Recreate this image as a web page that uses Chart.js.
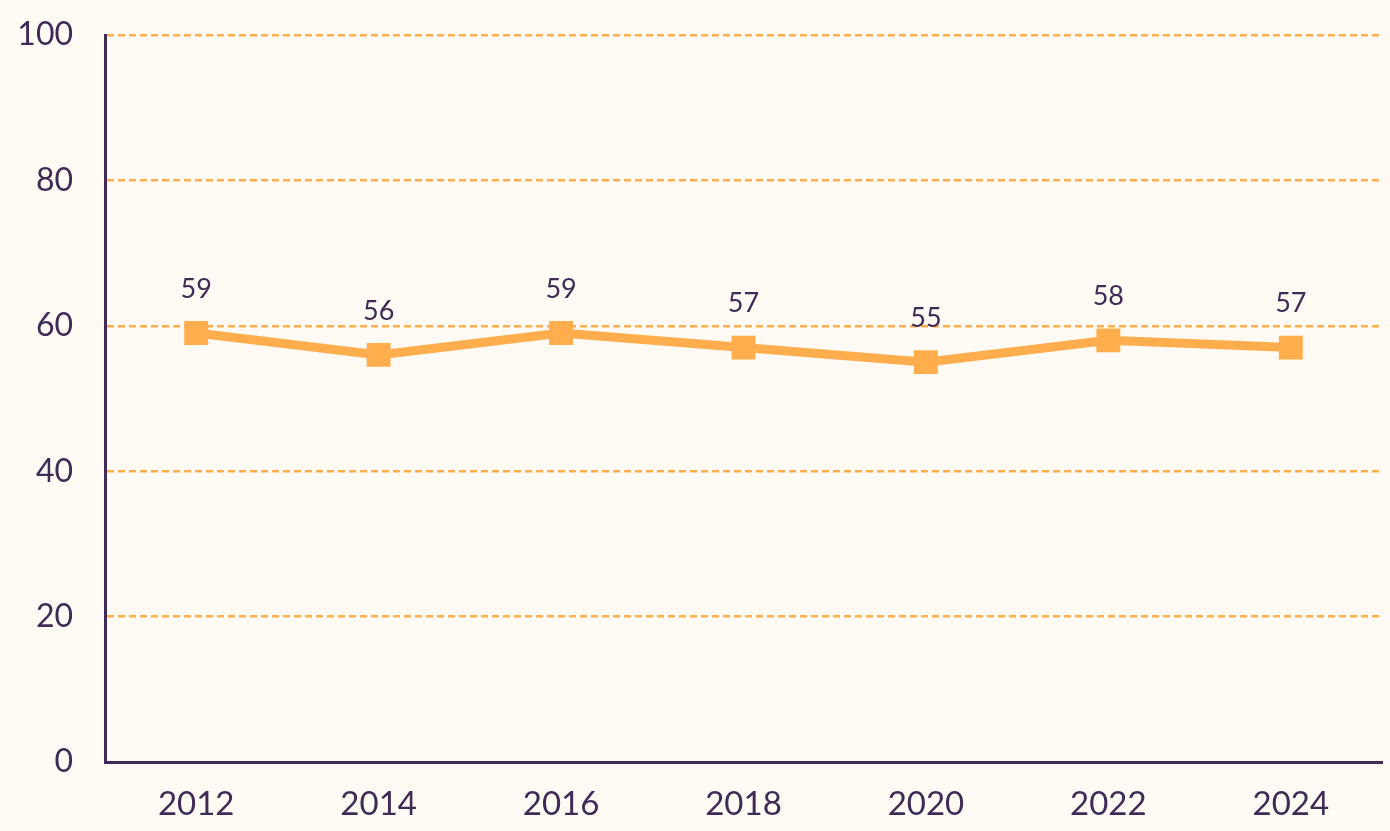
<!DOCTYPE html>
<html>
<head>
<meta charset="utf-8">
<script src="https://cdn.jsdelivr.net/npm/chart.js@4"></script>
<style>
	html, body { margin: 0; padding: 0; background: #fffaf3; }
	#wrap { width: 1390px; height: 831px; }
</style>
</head>
<body>
<div id="wrap"><canvas id="grafica" width="1390" height="831"></canvas></div>
<script>
const years = ['2012', '2014', '2016', '2018', '2020', '2022', '2024'];
const values = [59, 56, 59, 57, 55, 58, 57];
const yTicks = [0, 20, 40, 60, 80, 100];

const purple = '#3f2b56';
const orange = '#ffad4d';

// etiquetas encima de cada punto
const etiquetas = {
	id: 'etiquetas',
	afterDatasetsDraw(chart) {
		const ctx = chart.ctx;
		const meta = chart.getDatasetMeta(0);
		ctx.save();
		ctx.font = '27px Lato';
		ctx.fillStyle = purple;
		ctx.textAlign = 'center';
		ctx.textBaseline = 'middle';
		meta.data.forEach(function(pt, i) {
			ctx.fillText(String(values[i]), pt.x, pt.y - 44);
		});
		ctx.restore();
	}
};

new Chart(document.getElementById('grafica'), {
	type: 'line',
	data: {
		labels: years,
		datasets: [{
			data: values,
			borderColor: orange,
			backgroundColor: orange,
			borderWidth: 9,
			pointStyle: 'rect',
			pointRadius: 15.5,
			pointBorderWidth: 2,
			pointBorderColor: orange,
			pointBackgroundColor: orange,
			tension: 0
		}]
	},
	options: {
		responsive: false,
		animation: false,
		layout: { autoPadding: false, padding: { top: 35, right: 8, left: 0, bottom: 0 } },
		plugins: {
			legend: { display: false },
			tooltip: { enabled: false }
		},
		scales: {
			x: {
				offset: true,
				grid: { display: false, drawTicks: false },
				border: { color: purple, width: 3 },
				ticks: { color: purple, font: { family: 'Lato', size: 33 }, padding: 23 },
				afterFit: function(s) { s.height = 69; }
			},
			y: {
				min: 0,
				max: 100,
				afterBuildTicks: function(s) { s.ticks = yTicks.map(v => ({ value: v })); },
				grid: { color: orange, lineWidth: 2.5, drawTicks: false },
				border: { color: purple, width: 3, dash: [7, 4] },
				ticks: { color: purple, font: { family: 'Lato', size: 32 }, padding: 32 },
				afterFit: function(s) {
					s.width = 105;
					s.paddingTop = 0;
					s.paddingBottom = 0;
				}
			}
		}
	},
	plugins: [etiquetas]
});
</script>
</body>
</html>
